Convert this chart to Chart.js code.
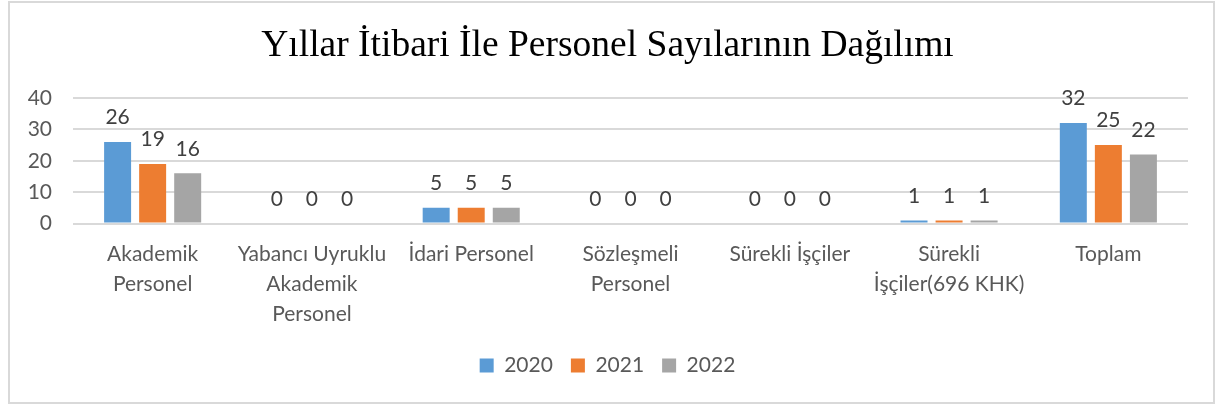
<!DOCTYPE html>
<html>
<head>
<meta charset="utf-8">
<script src="https://cdn.jsdelivr.net/npm/chart.js@4.4.1/dist/chart.umd.min.js"></script>
<style>
  html, body { margin: 0; padding: 0; background: #fff; }
  #box {
    position: absolute; left: 8px; top: 1px;
    width: 1203px; height: 399px;
    border: 2px solid #d9d9d9; background: #fff;
  }
  canvas { display: block; }
</style>
</head>
<body>
<div id="box"><canvas id="chart" width="1203" height="399"></canvas></div>
<script>
// Chart data
const categories = [
  ['Akademik', 'Personel'],
  ['Yabancı Uyruklu', 'Akademik', 'Personel'],
  'İdari Personel',
  ['Sözleşmeli', 'Personel'],
  'Sürekli İşçiler',
  ['Sürekli', 'İşçiler(696 KHK)'],
  'Toplam'
];
const years = ['2020', '2021', '2022'];
const values2020 = [26, 0, 5, 0, 0, 1, 32];
const values2021 = [19, 0, 5, 0, 0, 1, 25];
const values2022 = [16, 0, 5, 0, 0, 1, 22];
const yTicks = [0, 10, 20, 30, 40];

const colors = ['#5b9bd5', '#ed7d31', '#a5a5a5'];
const textColor = '#595959';
const fontFamily = 'Lato, "Open Sans", sans-serif';
const fontSize = 21;

// simple data labels above each bar
const barLabels = {
  id: 'barLabels',
  afterDatasetsDraw(chart) {
    const ctx = chart.ctx;
    ctx.save();
    ctx.font = fontSize + 'px ' + fontFamily;
    ctx.fillStyle = '#404040';
    ctx.textAlign = 'center';
    ctx.textBaseline = 'bottom';
    chart.data.datasets.forEach((ds, i) => {
      chart.getDatasetMeta(i).data.forEach((bar, j) => {
        ctx.fillText(String(ds.data[j]), bar.x, bar.y - 14);
      });
    });
    ctx.restore();
  }
};

new Chart(document.getElementById('chart').getContext('2d'), {
  type: 'bar',
  data: {
    labels: categories,
    datasets: [
      { label: years[0], data: values2020, backgroundColor: colors[0] },
      { label: years[1], data: values2021, backgroundColor: colors[1] },
      { label: years[2], data: values2022, backgroundColor: colors[2] }
    ]
  },
  options: {
    responsive: false,
    animation: false,
    categoryPercentage: 0.66,
    barPercentage: 0.77,
    layout: { padding: { left: 17, right: 25, top: 8, bottom: 16 } },
    plugins: {
      title: {
        display: true,
        text: 'Yıllar İtibari İle Personel Sayılarının Dağılımı',
        color: '#000',
        font: { family: '"Liberation Serif", "Times New Roman", serif', size: 37.5, weight: 'normal' },
        padding: { top: 13, bottom: 29 }
      },
      legend: {
        position: 'bottom',
        labels: {
          color: textColor,
          font: { family: fontFamily, size: fontSize },
          boxWidth: 14, boxHeight: 14,
          padding: 18
        }
      },
      tooltip: { enabled: false }
    },
    scales: {
      x: {
        grid: { display: false },
        border: { display: false },
        ticks: {
          color: textColor,
          font: { family: fontFamily, size: fontSize, lineHeight: 1.42 },
          maxRotation: 0, autoSkip: false, padding: 8
        }
      },
      y: {
        min: yTicks[0], max: yTicks[yTicks.length - 1],
        afterBuildTicks(axis) { axis.ticks = yTicks.map(v => ({ value: v })); },
        afterFit(axis) { axis.width = 46; },
        grid: { color: '#d9d9d9', lineWidth: 2, drawTicks: false },
        border: { display: false },
        ticks: {
          color: textColor,
          font: { family: fontFamily, size: fontSize },
          padding: 21, autoSkip: false
        }
      }
    }
  },
  plugins: [barLabels]
});
</script>
</body>
</html>
